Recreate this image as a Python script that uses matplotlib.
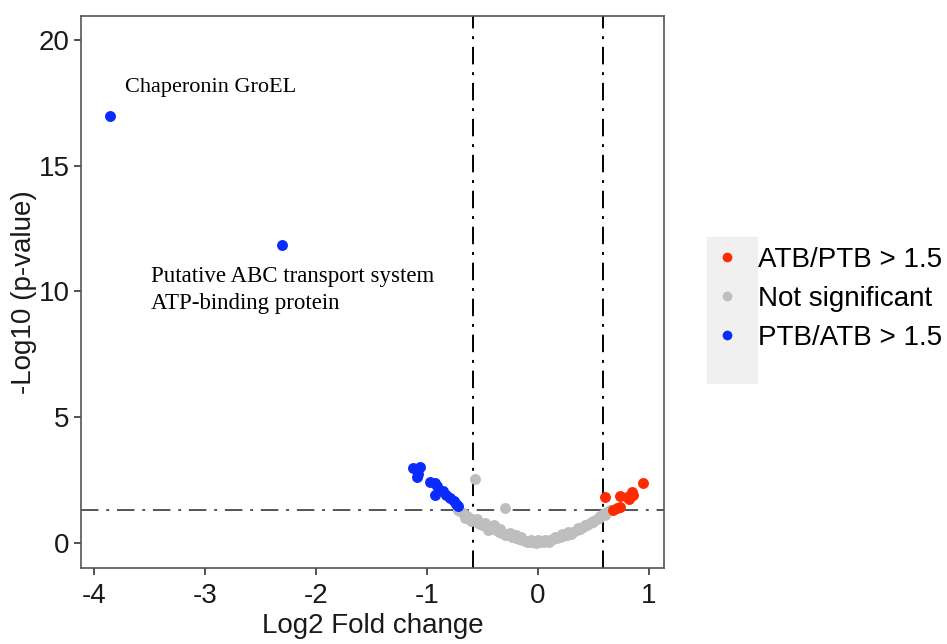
import matplotlib.pyplot as plt
from matplotlib.patches import Rectangle
from matplotlib.lines import Line2D

plt.rcParams['font.family'] = ['Liberation Sans', 'DejaVu Sans']
plt.rcParams['axes.unicode_minus'] = False

# ===== data =====
up_x = [0.60, 0.68, 0.71, 0.74, 0.74, 0.80, 0.85, 0.86, 0.95, 0.82]
up_y = [1.83, 1.30, 1.38, 1.43, 1.87, 1.84, 2.03, 1.90, 2.38, 1.75]

down_x = [-1.13, -1.06, -1.09, -1.08, -0.97, -0.93, -0.91, -0.93, -0.86, -0.83,
          -0.79, -0.76, -0.74, -0.72, -3.86, -2.31]
down_y = [2.98, 3.00, 2.60, 2.75, 2.42, 2.38, 2.28, 1.90, 2.05, 1.90,
          1.80, 1.65, 1.55, 1.45, 16.98, 11.85]

ns_x = [-0.72, -0.70, -0.68, -0.66, -0.64, -0.62, -0.60, -0.58, -0.56, -0.54,
        -0.52, -0.50, -0.47, -0.44, -0.41, -0.38, -0.35, -0.32, -0.29, -0.26,
        -0.23, -0.20, -0.17, -0.14, -0.11, -0.08, -0.05, -0.02,
        0.02, 0.05, 0.08, 0.11, 0.14, 0.17, 0.20, 0.23, 0.26, 0.29, 0.32,
        0.35, 0.38, 0.41, 0.44, 0.47, 0.50, 0.53, 0.56, 0.59, 0.62, 0.65,
        -0.45, -0.30, -0.60, 0.10, -0.10, -0.38, -0.25, 0.30, 0.50,
        -0.66, -0.55, -0.48, -0.40, -0.34, -0.20, -0.15, -0.06, 0.00, 0.06,
        0.15, 0.22, 0.27, 0.36, 0.42, 0.55, 0.60,
        -0.57, -0.30]
ns_y = [1.32, 1.25, 1.20, 1.12, 1.06, 1.00, 0.95, 0.90, 0.86, 0.80,
        0.76, 0.72, 0.66, 0.60, 0.54, 0.50, 0.44, 0.40, 0.35, 0.30,
        0.25, 0.20, 0.16, 0.12, 0.08, 0.05, 0.03, 0.01,
        0.02, 0.04, 0.07, 0.10, 0.14, 0.18, 0.22, 0.27, 0.32, 0.37, 0.43,
        0.50, 0.57, 0.64, 0.72, 0.80, 0.88, 0.96, 1.05, 1.14, 1.22, 1.30,
        0.50, 0.30, 0.85, 0.02, 0.02, 0.60, 0.40, 0.35, 0.82,
        1.00, 0.95, 0.80, 0.70, 0.55, 0.32, 0.25, 0.12, 0.10, 0.12,
        0.25, 0.34, 0.42, 0.60, 0.72, 0.98, 1.12,
        2.55, 1.40]

fc_cut = 0.585
p_cut = 1.3

x_ticks = [-4, -3, -2, -1, 0, 1]
y_ticks = [0, 5, 10, 15, 20]

red = '#FF2A00'
blue = '#0A2BFF'
grey = '#BEBEBE'

# ===== plot =====
fig = plt.figure(figsize=(9.47, 6.44), dpi=100)
ax = fig.add_axes([0.0855, 0.118, 0.6155, 0.857])

ax.scatter(ns_x, ns_y, s=62, color=grey, linewidths=0, zorder=2)
ax.scatter(down_x, down_y, s=62, color=blue, linewidths=0, zorder=3)
ax.scatter(up_x, up_y, s=62, color=red, linewidths=0, zorder=3)

dd = (0, (9, 4, 1.5, 4))
ax.axvline(-fc_cut, color='black', lw=1.4, ls=dd, zorder=1)
ax.axvline(fc_cut, color='black', lw=1.4, ls=dd, zorder=1)
ax.axhline(p_cut, color='#555555', lw=1.4, ls=dd, zorder=1)

ax.set_xlim(-4.12, 1.135)
ax.set_ylim(-1.0, 20.95)
ax.set_xticks(x_ticks)
ax.set_yticks(y_ticks)
ax.tick_params(labelsize=20, length=5, width=1.2, color='#333333', labelcolor='#1a1a1a', pad=3)
ax.tick_params(axis='x', pad=6)
for s in ax.spines.values():
    s.set_color('#555555')
    s.set_linewidth(1.2)

ax.set_xlabel('Log2 Fold change', fontsize=20, color='#1a1a1a', labelpad=3)
ax.set_ylabel('-Log10 (p-value)', fontsize=20, color='#1a1a1a', labelpad=1)

ax.text(-3.72, 18.1, 'Chaperonin GroEL', family='Liberation Serif', fontsize=16, va='center')
ax.text(-3.49, 10.06, 'Putative ABC transport system\nATP-binding protein',
        family='Liberation Serif', fontsize=16.5, va='center', linespacing=1.4)

# legend (grey key background)
fig.patches.append(Rectangle((707 / 947, 1 - 383 / 644), 50 / 947, 146 / 644,
                             transform=fig.transFigure, color='#F0F0F0', zorder=0))
handles = [Line2D([], [], ls='none', marker='o', ms=7, mec='none', mfc=c) for c in (red, grey, blue)]
fig.legend(handles, ['ATB/PTB > 1.5', 'Not significant', 'PTB/ATB > 1.5'],
           loc='center left', bbox_to_anchor=(0.753, 0.536), frameon=False,
           fontsize=20, handlelength=1.0, handletextpad=0.6, labelspacing=0.47,
           borderaxespad=0, borderpad=0)

plt.savefig('out.png', dpi=100)
